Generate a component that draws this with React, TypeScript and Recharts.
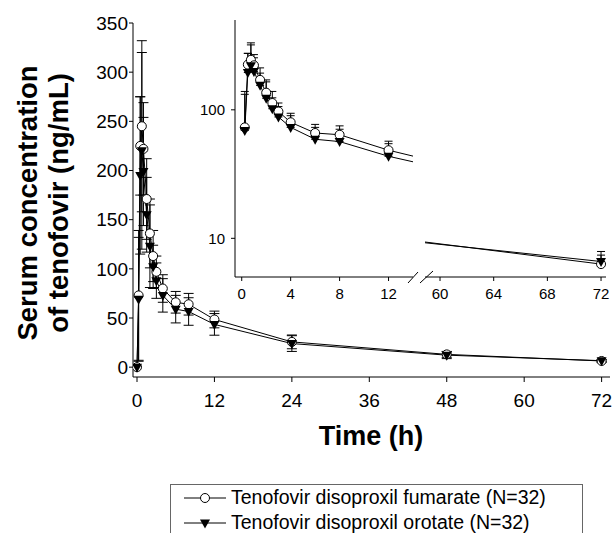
import { ErrorBar, Line, LineChart, XAxis, YAxis } from "recharts";

const FONT = "'Liberation Sans', Arial, sans-serif";

const hours = [0, 0.25, 0.5, 0.75, 1, 1.5, 2, 2.5, 3, 4, 6, 8, 12, 24, 48, 72];
const fumarate = [0, 73, 225, 245, 222, 171, 136, 113, 97, 80, 66, 64, 48.5, 25.7, 13, 6.3];
const fumarateSd = [0, 66, 50, 87, 47, 41, 35, 26, 16, 14, 11, 11, 8.5, 7, 3, 1.6];
const orotate = [0, 69, 195, 220, 199, 155, 123, 102, 88, 73, 59, 56.6, 43.5, 24, 12.2, 6.6];
const orotateSd = [0, 63, 80, 100, 55, 38, 42, 22, 18, 17, 14, 14, 11, 8, 3.5, 0.8];

const mainTicksX = [0, 12, 24, 36, 48, 60, 72];
const mainTicksY = [0, 50, 100, 150, 200, 250, 300, 350];
const insetTicksLeft = [0, 4, 8, 12];
const insetTicksRight = [60, 64, 68, 72];
const insetTicksY = [10, 100];

const seriesNames = {
  fumarate: "Tenofovir disoproxil fumarate (N=32)",
  orotate: "Tenofovir disoproxil orotate (N=32)",
};

const rows = hours.map((h, i) => ({
  h,
  fumarate: fumarate[i],
  orotate: orotate[i],
  fumSd: fumarateSd[i],
  oroSd: orotateSd[i],
  fumUp: [0, fumarateSd[i]],
  oroUp: [0, orotateSd[i]],
}));
// log inset can't show the 0 h sample
const insetRows = rows.filter((r) => r.h > 0);

const circleDot = { r: 4.5, fill: "#fff", stroke: "#000", strokeWidth: 1 };

function Triangle(props: any) {
  const { cx, cy, index } = props;
  if (cx == null || cy == null) return <g key={`t-${index}`} />;
  return (
    <path
      key={`t-${index}`}
      d={`M${cx - 5},${cy - 3.5}L${cx + 5},${cy - 3.5}L${cx},${cy + 5.5}Z`}
      fill="#000"
    />
  );
}

const tickStyle = { fill: "#000", fontSize: 19, fontFamily: FONT };
const insetTickStyle = { fill: "#000", fontSize: 15, fontFamily: FONT };
const axisLine = { stroke: "#000", strokeWidth: 1 };

function YTitle() {
  return (
    <text
      transform="rotate(-90)"
      textAnchor="middle"
      fontFamily={FONT}
      fontWeight="bold"
      fontSize={27.5}
      fill="#000"
    >
      <tspan x={-203} y={37}>
        Serum concentration
      </tspan>
      <tspan x={-203} y={68}>
        of tenofovir (ng/mL)
      </tspan>
    </text>
  );
}

function XTitle() {
  return (
    <text x={371} y={445} textAnchor="middle" fontFamily={FONT} fontWeight="bold" fontSize={27} fill="#000">
      Time (h)
    </text>
  );
}

function legendRow(kind: "fumarate" | "orotate") {
  return (
    <div style={{ display: "flex", alignItems: "center", height: 25 }}>
      <svg width={46} height={20} style={{ marginLeft: 13, marginRight: 1 }}>
        <line x1={0} y1={10} x2={42} y2={10} stroke="#000" strokeWidth={1} />
        {kind === "fumarate" ? (
          <circle cx={21} cy={10} r={4.5} fill="#fff" stroke="#000" />
        ) : (
          <path d="M16,6.5L26,6.5L21,15.5Z" fill="#000" />
        )}
      </svg>
      <span style={{ fontFamily: FONT, fontSize: 19.5, color: "#000", whiteSpace: "nowrap" }}>
        {seriesNames[kind]}
      </span>
    </div>
  );
}

export default function App() {
  return (
    <div style={{ position: "relative", width: 616, height: 533, overflow: "hidden", background: "#fff" }}>
      <style>{"body{margin:0}"}</style>

      <div style={{ position: "absolute", left: 0, top: 0 }}>
        <LineChart width={616} height={533} data={rows} margin={{ top: 23, right: 6, left: 63, bottom: 86 }}>
          <XAxis
            dataKey="h"
            type="number"
            domain={[-0.62, 73.3]}
            allowDataOverflow
            ticks={mainTicksX}
            tick={tickStyle}
            tickSize={5}
            tickMargin={12}
            axisLine={axisLine}
            tickLine={axisLine}
            height={70}
            label={{ content: XTitle }}
          />
          <YAxis
            type="number"
            domain={[-10, 350]}
            allowDataOverflow
            ticks={mainTicksY}
            tick={tickStyle}
            tickSize={4}
            tickMargin={1}
            axisLine={axisLine}
            tickLine={axisLine}
            width={70}
            label={{ content: YTitle }}
          />
          <Line dataKey="fumarate" stroke="#000" strokeWidth={1} dot={circleDot} isAnimationActive={false}>
            <ErrorBar dataKey="fumSd" direction="y" width={5} stroke="#000" strokeWidth={1} />
          </Line>
          <Line dataKey="orotate" stroke="#000" strokeWidth={1} dot={Triangle} isAnimationActive={false}>
            <ErrorBar dataKey="oroSd" direction="y" width={5} stroke="#000" strokeWidth={1} />
          </Line>
        </LineChart>
      </div>

      {/* inset, left part of the broken axis */}
      <div style={{ position: "absolute", left: 185, top: 0 }}>
        <LineChart width={228} height={307} data={insetRows} margin={{ top: 20, right: 0, left: 0, bottom: 0 }}>
          <XAxis
            dataKey="h"
            type="number"
            domain={[-0.55, 14]}
            allowDataOverflow
            ticks={insetTicksLeft}
            tick={insetTickStyle}
            tickSize={4}
            tickMargin={7}
            axisLine={axisLine}
            tickLine={axisLine}
            height={30}
          />
          <YAxis
            type="number"
            scale="log"
            domain={[5, 500]}
            allowDataOverflow
            ticks={insetTicksY}
            tick={insetTickStyle}
            tickSize={4}
            tickMargin={6}
            axisLine={axisLine}
            tickLine={axisLine}
            width={50}
          />
          <Line dataKey="fumarate" stroke="#000" strokeWidth={1} dot={circleDot} isAnimationActive={false}>
            <ErrorBar dataKey="fumUp" direction="y" width={4} stroke="#000" strokeWidth={1} />
          </Line>
          <Line dataKey="orotate" stroke="#000" strokeWidth={1} dot={Triangle} isAnimationActive={false}>
            <ErrorBar dataKey="oroUp" direction="y" width={4} stroke="#000" strokeWidth={1} />
          </Line>
        </LineChart>
      </div>

      {/* inset, right part of the broken axis */}
      <div style={{ position: "absolute", left: 425, top: 0 }}>
        <LineChart width={191} height={307} data={insetRows} margin={{ top: 20, right: 10, left: 0, bottom: 0 }}>
          <XAxis
            dataKey="h"
            type="number"
            domain={[58.88, 72.37]}
            allowDataOverflow
            ticks={insetTicksRight}
            tick={insetTickStyle}
            tickSize={4}
            tickMargin={7}
            axisLine={axisLine}
            tickLine={axisLine}
            height={30}
          />
          <YAxis type="number" scale="log" domain={[5, 500]} allowDataOverflow hide />
          <Line dataKey="fumarate" stroke="#000" strokeWidth={1} dot={circleDot} isAnimationActive={false}>
            <ErrorBar dataKey="fumUp" direction="y" width={4} stroke="#000" strokeWidth={1} />
          </Line>
          <Line dataKey="orotate" stroke="#000" strokeWidth={1} dot={Triangle} isAnimationActive={false}>
            <ErrorBar dataKey="oroUp" direction="y" width={4} stroke="#000" strokeWidth={1} />
          </Line>
        </LineChart>
      </div>

      {/* axis break marks */}
      <svg style={{ position: "absolute", left: 400, top: 265 }} width={40} height={25}>
        <line x1={8} y1={18} x2={18} y2={7} stroke="#000" strokeWidth={1} />
        <line x1={20} y1={18} x2={33} y2={6} stroke="#000" strokeWidth={1} />
      </svg>

      <div
        style={{
          position: "absolute",
          left: 170,
          top: 484,
          width: 411,
          height: 60,
          border: "1px solid #666",
        }}
      >
        {legendRow("fumarate")}
        {legendRow("orotate")}
      </div>
    </div>
  );
}
